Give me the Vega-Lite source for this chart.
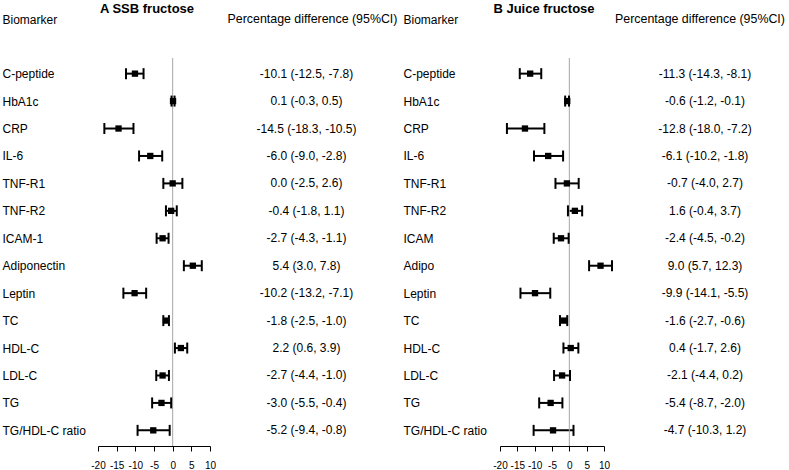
{
  "$schema": "https://vega.github.io/schema/vega-lite/v6.json",
  "padding": {"left": 2, "top": 3, "right": 0, "bottom": 0},
  "spacing": 0,
  "config": {
    "view": {"stroke": null},
    "font": "Liberation Sans",
    "axisX": {"title": null, "grid": false, "domainColor": "black", "tickColor": "black", "tickSize": 5, "labelFontSize": 10, "labelColor": "black", "labelFont": "Liberation Sans", "labelPadding": 9, "labelOverlap": false, "labelFlush": false, "labelExpr": "'' + datum.value"}
  },
  "datasets": {
    "ssb": [
      {"biomarker": "C-peptide", "est": -10.1, "lo": -12.5, "hi": -7.8, "ci": "-10.1 (-12.5, -7.8)"},
      {"biomarker": "HbA1c", "est": 0.1, "lo": -0.3, "hi": 0.5, "ci": "0.1 (-0.3, 0.5)"},
      {"biomarker": "CRP", "est": -14.5, "lo": -18.3, "hi": -10.5, "ci": "-14.5 (-18.3, -10.5)"},
      {"biomarker": "IL-6", "est": -6.0, "lo": -9.0, "hi": -2.8, "ci": "-6.0 (-9.0, -2.8)"},
      {"biomarker": "TNF-R1", "est": 0.0, "lo": -2.5, "hi": 2.6, "ci": "0.0 (-2.5, 2.6)"},
      {"biomarker": "TNF-R2", "est": -0.4, "lo": -1.8, "hi": 1.1, "ci": "-0.4 (-1.8, 1.1)"},
      {"biomarker": "ICAM-1", "est": -2.7, "lo": -4.3, "hi": -1.1, "ci": "-2.7 (-4.3, -1.1)"},
      {"biomarker": "Adiponectin", "est": 5.4, "lo": 3.0, "hi": 7.8, "ci": "5.4 (3.0, 7.8)"},
      {"biomarker": "Leptin", "est": -10.2, "lo": -13.2, "hi": -7.1, "ci": "-10.2 (-13.2, -7.1)"},
      {"biomarker": "TC", "est": -1.8, "lo": -2.5, "hi": -1.0, "ci": "-1.8 (-2.5, -1.0)"},
      {"biomarker": "HDL-C", "est": 2.2, "lo": 0.6, "hi": 3.9, "ci": "2.2 (0.6, 3.9)"},
      {"biomarker": "LDL-C", "est": -2.7, "lo": -4.4, "hi": -1.0, "ci": "-2.7 (-4.4, -1.0)"},
      {"biomarker": "TG", "est": -3.0, "lo": -5.5, "hi": -0.4, "ci": "-3.0 (-5.5, -0.4)"},
      {"biomarker": "TG/HDL-C ratio", "est": -5.2, "lo": -9.4, "hi": -0.8, "ci": "-5.2 (-9.4, -0.8)"}
    ],
    "juice": [
      {"biomarker": "C-peptide", "est": -11.3, "lo": -14.3, "hi": -8.1, "ci": "-11.3 (-14.3, -8.1)"},
      {"biomarker": "HbA1c", "est": -0.6, "lo": -1.2, "hi": -0.1, "ci": "-0.6 (-1.2, -0.1)"},
      {"biomarker": "CRP", "est": -12.8, "lo": -18.0, "hi": -7.2, "ci": "-12.8 (-18.0, -7.2)"},
      {"biomarker": "IL-6", "est": -6.1, "lo": -10.2, "hi": -1.8, "ci": "-6.1 (-10.2, -1.8)"},
      {"biomarker": "TNF-R1", "est": -0.7, "lo": -4.0, "hi": 2.7, "ci": "-0.7 (-4.0, 2.7)"},
      {"biomarker": "TNF-R2", "est": 1.6, "lo": -0.4, "hi": 3.7, "ci": "1.6 (-0.4, 3.7)"},
      {"biomarker": "ICAM", "est": -2.4, "lo": -4.5, "hi": -0.2, "ci": "-2.4 (-4.5, -0.2)"},
      {"biomarker": "Adipo", "est": 9.0, "lo": 5.7, "hi": 12.3, "ci": "9.0 (5.7, 12.3)"},
      {"biomarker": "Leptin", "est": -9.9, "lo": -14.1, "hi": -5.5, "ci": "-9.9 (-14.1, -5.5)"},
      {"biomarker": "TC", "est": -1.6, "lo": -2.7, "hi": -0.6, "ci": "-1.6 (-2.7, -0.6)"},
      {"biomarker": "HDL-C", "est": 0.4, "lo": -1.7, "hi": 2.6, "ci": "0.4 (-1.7, 2.6)"},
      {"biomarker": "LDL-C", "est": -2.1, "lo": -4.4, "hi": 0.2, "ci": "-2.1 (-4.4, 0.2)"},
      {"biomarker": "TG", "est": -5.4, "lo": -8.7, "hi": -2.0, "ci": "-5.4 (-8.7, -2.0)"},
      {"biomarker": "TG/HDL-C ratio", "est": -4.7, "lo": -10.3, "hi": 1.2, "ci": "-4.7 (-10.3, 1.2)"}
    ]
  },
  "hconcat": [
    {
      "data": {"name": "ssb"},
      "width": 112,
      "height": 388,
      "title": {"text": "A SSB fructose", "fontSize": 13, "fontWeight": "bold", "font": "Liberation Sans", "color": "black", "anchor": "middle", "dx": -7, "offset": -13, "baseline": "alphabetic"},
      "encoding": {
        "y": {
          "field": "biomarker", "type": "nominal", "sort": null,
          "scale": {"type": "point", "padding": 0.57},
          "axis": {"orient": "left", "title": "Biomarker", "domain": false, "ticks": false, "labelAlign": "left", "labelPadding": 96, "labelFontSize": 12, "labelColor": "black", "labelFont": "Liberation Sans", "titleAngle": 0, "titleAlign": "left", "titleBaseline": "alphabetic", "titleX": -96, "titleY": -35, "titleFontWeight": "normal", "titleFontSize": 12, "titleColor": "black", "titleFont": "Liberation Sans"}
        }
      },
      "layer": [
        {
          "mark": {"type": "rule", "color": "black", "strokeWidth": 2},
          "encoding": {
            "x": {"field": "lo", "type": "quantitative", "scale": {"domain": [-20, 10], "nice": false, "zero": false}, "axis": {"values": [-20, -15, -10, -5, 0, 5, 10]}},
            "x2": {"field": "hi"}
          }
        },
        {
          "data": {"values": [{}]},
          "mark": {"type": "rule", "color": "#a6a6a6", "strokeWidth": 1},
          "encoding": {"x": {"datum": 0, "type": "quantitative", "axis": {"values": [-20, -15, -10, -5, 0, 5, 10]}}, "y": null}
        },
        {
          "mark": {"type": "tick", "color": "black", "size": 11, "thickness": 2, "opacity": 1},
          "encoding": {"x": {"field": "lo", "type": "quantitative", "axis": {"values": [-20, -15, -10, -5, 0, 5, 10]}}}
        },
        {
          "mark": {"type": "tick", "color": "black", "size": 11, "thickness": 2, "opacity": 1},
          "encoding": {"x": {"field": "hi", "type": "quantitative", "axis": {"values": [-20, -15, -10, -5, 0, 5, 10]}}}
        },
        {
          "mark": {"type": "point", "shape": "square", "filled": true, "color": "black", "size": 40, "opacity": 1},
          "encoding": {"x": {"field": "est", "type": "quantitative", "axis": {"values": [-20, -15, -10, -5, 0, 5, 10]}}}
        }
      ]
    },
    {
      "data": {"name": "ssb"},
      "width": 187,
      "height": 388,
      "title": {"text": "Percentage difference (95%CI)", "fontSize": 12.4, "fontWeight": "normal", "font": "Liberation Sans", "color": "black", "anchor": "middle", "dx": 3, "offset": 23, "baseline": "alphabetic"},
      "mark": {"type": "text", "fontSize": 12, "color": "black", "font": "Liberation Sans", "dx": -3},
      "encoding": {
        "y": {"field": "biomarker", "type": "nominal", "sort": null, "scale": {"type": "point", "padding": 0.57}, "axis": null},
        "text": {"field": "ci", "type": "nominal"}
      }
    },
    {
      "data": {"name": "juice"},
      "width": 104,
      "height": 388,
      "title": {"text": "B Juice fructose", "fontSize": 13, "fontWeight": "bold", "font": "Liberation Sans", "color": "black", "anchor": "middle", "dx": -8, "offset": -13, "baseline": "alphabetic"},
      "encoding": {
        "y": {
          "field": "biomarker", "type": "nominal", "sort": null,
          "scale": {"type": "point", "padding": 0.57},
          "axis": {"orient": "left", "title": "Biomarker", "domain": false, "ticks": false, "labelAlign": "left", "labelPadding": 97, "labelFontSize": 12, "labelColor": "black", "labelFont": "Liberation Sans", "titleAngle": 0, "titleAlign": "left", "titleBaseline": "alphabetic", "titleX": -97, "titleY": -35, "titleFontWeight": "normal", "titleFontSize": 12, "titleColor": "black", "titleFont": "Liberation Sans"}
        }
      },
      "layer": [
        {
          "mark": {"type": "rule", "color": "black", "strokeWidth": 2, "clip": false},
          "encoding": {
            "x": {"field": "lo", "type": "quantitative", "scale": {"domain": [-20, 10], "nice": false, "zero": false}, "axis": {"values": [-20, -15, -10, -5, 0, 5, 10]}},
            "x2": {"field": "hi"}
          }
        },
        {
          "data": {"values": [{}]},
          "mark": {"type": "rule", "color": "#a6a6a6", "strokeWidth": 1},
          "encoding": {"x": {"datum": 0, "type": "quantitative", "axis": {"values": [-20, -15, -10, -5, 0, 5, 10]}}, "y": null}
        },
        {
          "mark": {"type": "tick", "color": "black", "size": 11, "thickness": 2, "opacity": 1},
          "encoding": {"x": {"field": "lo", "type": "quantitative", "axis": {"values": [-20, -15, -10, -5, 0, 5, 10]}}}
        },
        {
          "mark": {"type": "tick", "color": "black", "size": 11, "thickness": 2, "opacity": 1},
          "encoding": {"x": {"field": "hi", "type": "quantitative", "axis": {"values": [-20, -15, -10, -5, 0, 5, 10]}}}
        },
        {
          "mark": {"type": "point", "shape": "square", "filled": true, "color": "black", "size": 40, "opacity": 1},
          "encoding": {"x": {"field": "est", "type": "quantitative", "axis": {"values": [-20, -15, -10, -5, 0, 5, 10]}}}
        }
      ]
    },
    {
      "data": {"name": "juice"},
      "width": 176,
      "height": 388,
      "title": {"text": "Percentage difference (95%CI)", "fontSize": 12.4, "fontWeight": "normal", "font": "Liberation Sans", "color": "black", "anchor": "middle", "dx": -1, "offset": 23, "baseline": "alphabetic"},
      "mark": {"type": "text", "fontSize": 12, "color": "black", "font": "Liberation Sans", "dx": 4},
      "encoding": {
        "y": {"field": "biomarker", "type": "nominal", "sort": null, "scale": {"type": "point", "padding": 0.57}, "axis": null},
        "text": {"field": "ci", "type": "nominal"}
      }
    }
  ]
}
